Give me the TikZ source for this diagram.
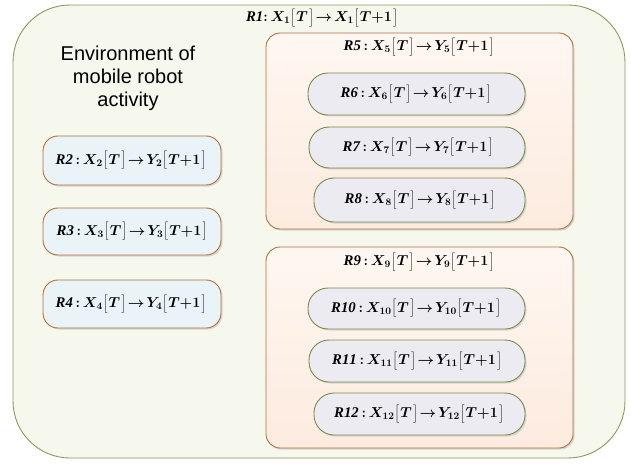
\documentclass[tikz,border=0pt]{standalone}
\usepackage{fontspec}
\setmainfont{Liberation Serif}
\newfontfamily\arialfont{Liberation Sans}
\usetikzlibrary{shadows}
\definecolor{outerfill}{HTML}{F6F8EE}
\definecolor{outerdraw}{HTML}{8A9A5B}
\definecolor{bluefill}{HTML}{E9F3F8}
\definecolor{browndraw}{HTML}{B5703A}
\definecolor{peachtop}{HTML}{FEF7F1}
\definecolor{peachbot}{HTML}{FDEBDF}
\definecolor{pillfill}{HTML}{ECEBF2}
\definecolor{pilldraw}{HTML}{7D8A4A}
\tikzset{
  shad/.style={drop shadow={shadow xshift=1.5pt,shadow yshift=-1.5pt,fill=black!25,opacity=0.6}},
  outerbox/.style={draw=outerdraw,fill=outerfill,line width=0.9pt,rounded corners=57pt},
  leftbox/.style={draw=browndraw,fill=bluefill,line width=0.9pt,rounded corners=15pt,shad},
  groupbox/.style={draw=browndraw,top color=peachtop,bottom color=peachbot,line width=0.9pt,rounded corners=14pt,shad},
  pill/.style={draw=pilldraw,fill=pillfill,line width=0.9pt,rounded corners=20pt,shad},
  lbl/.style={font=\fontsize{14.8}{18}\selectfont\boldmath,inner sep=0pt},
  envtext/.style={font=\arialfont\fontsize{20}{23}\selectfont,align=center,inner sep=0pt}
}
\newcommand{\Lb}{\mathopen{\left[\vphantom{T_1^1}\right.}}
\newcommand{\Rb}{\mathclose{\left.\vphantom{T_1^1}\right]}}
\newcommand{\Rlab}[3]{$\mathit{R#1}\,{:}\,X_{#2}\Lb T\Rb\!\rightarrow\! Y_{#3}\Lb T{+}1\Rb$}
\begin{document}
\begin{tikzpicture}[x=1pt,y=-1pt]
\useasboundingbox (0,0) rectangle (631,465);
% outer
\draw[outerbox] (13,5) rectangle (625,458);
\node[lbl] (r1) at (322,18) {$\mathit{R1}{:}\,X_{1}\Lb T\Rb\!\rightarrow\! X_{1}\Lb T{+}1\Rb$};
\node[envtext] (env) at (128,78) {Environment of\\mobile robot\\activity};
% left boxes
\draw[leftbox] (43,136) rectangle (221,185);
\node[lbl] (r2) at (131,160.5) {\Rlab{2}{2}{2}};
\draw[leftbox] (43,208) rectangle (221,255);
\node[lbl] (r3) at (132,231.5) {\Rlab{3}{3}{3}};
\draw[leftbox] (43,280) rectangle (221,328);
\node[lbl] (r4) at (131,304) {\Rlab{4}{4}{4}};
% group 1
\draw[groupbox] (266,33) rectangle (573,229);
\node[lbl] (r5) at (419,47) {\Rlab{5}{5}{5}};
\draw[pill] (308,73) rectangle (525,115);
\node[lbl] (r6) at (416,94) {\Rlab{6}{6}{6}};
\draw[pill] (309,127) rectangle (525,168);
\node[lbl] (r7) at (418,147.5) {\Rlab{7}{7}{7}};
\draw[pill] (314,178) rectangle (525,222);
\node[lbl] (r8) at (420,200) {\Rlab{8}{8}{8}};
% group 2
\draw[groupbox] (266,247) rectangle (573,448);
\node[lbl] (r9) at (419,262) {\Rlab{9}{9}{9}};
\draw[pill] (308,288) rectangle (525,329);
\node[lbl] (r10) at (416,308.5) {\Rlab{10}{10}{10}};
\draw[pill] (309,340) rectangle (525,382);
\node[lbl] (r11) at (417,361) {\Rlab{11}{11}{11}};
\draw[pill] (314,393) rectangle (525,435);
\node[lbl] (r12) at (419,414) {\Rlab{12}{12}{12}};
\end{tikzpicture}
\end{document}
